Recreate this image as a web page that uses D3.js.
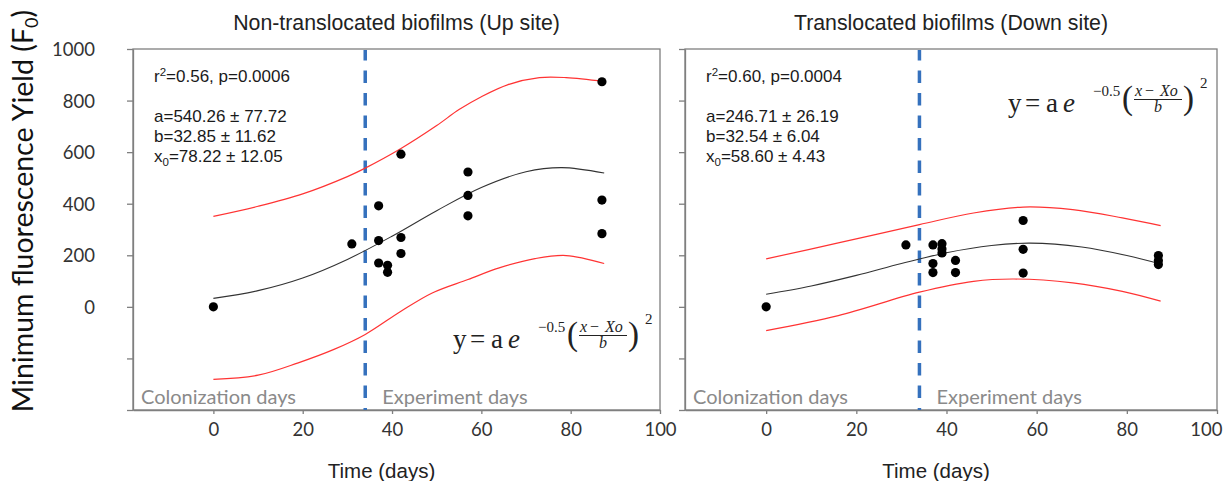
<!DOCTYPE html>
<html>
<head>
<meta charset="utf-8">
<script src="https://cdn.jsdelivr.net/npm/d3@7/dist/d3.min.js"></script>
<style>
  body { margin: 0; background: #fff; }
  .axis text { font-family: Lato, "Open Sans", sans-serif; font-size: 18.5px; fill: #333; }
  .axis path, .axis line { stroke: #7f7f7f; stroke-width: 1.3; }
</style>
</head>
<body>
<svg id="svg" width="1223" height="481"></svg>
<script>
// ---- data ----
var xTicks = [0, 20, 40, 60, 80, 100];
var yTicks = [-400, -200, 0, 200, 400, 600, 800, 1000];
var yTickLabels = ["", "", "0", "200", "400", "600", "800", "1000"];
var translocationDay = 34;

// Up site (non-translocated)
var upDays   = [0, 31, 37, 37, 37, 39, 39, 42, 42, 42, 57, 57, 57, 87, 87, 87];
var upValues = [0, 244, 392, 257, 170, 161, 134, 592, 269, 207, 523, 432, 353, 873, 414, 284];
var upFitDays = [0, 10, 20, 30, 40, 50, 60, 70, 78, 87.5];
var upFit     = [33, 63, 112, 184, 274, 373, 463, 524, 540, 519];
var upHiDays  = [0, 10, 20, 30, 34, 42, 50, 55, 60, 66, 73, 79, 87.5];
var upHi      = [351, 390, 438, 505, 538, 614, 703, 765, 815, 862, 889, 889, 874];
var upLoDays  = [0, 10, 19, 27, 34, 42, 49, 57, 64, 72, 79, 87.5];
var upLo      = [-281, -265, -217, -165, -107, -17, 54, 106, 151, 187, 199, 168];
var upStats = ["r2=0.56, p=0.0006", "a=540.26 \u00b1 77.72", "b=32.85 \u00b1 11.62", "x0=78.22 \u00b1 12.05"];

// Down site (translocated)
var downDays   = [0, 31, 37, 37, 37, 39, 39, 39, 42, 42, 57, 57, 57, 87, 87, 87];
var downValues = [0, 240, 240, 168, 133, 245, 224, 209, 180, 133, 335, 223, 131, 199, 180, 164];
var downFitDays = [0, 10, 20, 30, 40, 50, 58.6, 70, 80, 87.5];
var downFit     = [49, 81, 122, 168, 210, 238, 247, 232, 199, 166];
var downHiDays  = [0, 16, 34, 46, 57, 68, 79, 87.5];
var downHi      = [186, 248, 319, 364, 387, 377, 345, 315];
var downLoDays  = [0, 16, 34, 46, 55, 68, 79, 87.5];
var downLo      = [-92, -34, 57, 99, 108, 93, 60, 22];
var downStats = ["r2=0.60, p=0.0004", "a=246.71 \u00b1 26.19", "b=32.54 \u00b1 6.04", "x0=58.60 \u00b1 4.43"];

var titles = ["Non-translocated biofilms (Up site)", "Translocated biofilms (Down site)"];

function zip(xs, ys) { return xs.map(function (d, i) { return [d, ys[i]]; }); }

var panels = [
  { left: 133, right: 660, title: titles[0], labels: true, stats: upStats,
    pts: zip(upDays, upValues), fit: zip(upFitDays, upFit), hi: zip(upHiDays, upHi), lo: zip(upLoDays, upLo),
    eq: [453, 348] },
  { left: 685, right: 1217, title: titles[1], labels: false, stats: downStats,
    pts: zip(downDays, downValues), fit: zip(downFitDays, downFit), hi: zip(downHiDays, downHi), lo: zip(downLoDays, downLo),
    eq: [1008, 112] }
];

var svg = d3.select("#svg"),
    plotTop = 49, plotBottom = 410;

var y = d3.scaleLinear().domain([-400, 1000]).range([plotBottom, plotTop]);

panels.forEach(function (p, pi) {
  var x = d3.scaleLinear().domain([-18, 100]).range([p.left, p.right]);
  var g = svg.append("g");

  // frame
  g.append("rect")
    .attr("x", p.left).attr("y", plotTop)
    .attr("width", p.right - p.left).attr("height", plotBottom - plotTop)
    .attr("fill", "none").attr("stroke", "#7f7f7f").attr("stroke-width", 1.3);

  g.append("g").attr("class", "axis")
    .attr("transform", "translate(" + p.left + ",0)")
    .call(d3.axisLeft(y).tickValues(yTicks).tickSize(6).tickSizeOuter(0).tickPadding(32)
      .tickFormat(function (d, i) { return p.labels ? yTickLabels[i] : ""; }))
    .call(function (a) { a.selectAll("text").attr("dy", "0.36em"); });

  var xa = g.append("g").attr("class", "axis")
    .attr("transform", "translate(0," + plotBottom + ")")
    .call(d3.axisBottom(x).tickValues(xTicks).tickSize(4).tickSizeOuter(0).tickPadding(9));
  if (pi === 1) {
    // last label sits against the page edge
    xa.selectAll("text").filter(function (d) { return d === 100; })
      .attr("text-anchor", "end").attr("x", 5);
  }

  // dashed translocation line
  g.append("line")
    .attr("x1", x(translocationDay)).attr("x2", x(translocationDay))
    .attr("y1", plotTop + 1).attr("y2", plotBottom)
    .attr("stroke", "#3571bd").attr("stroke-width", 3.5)
    .attr("stroke-dasharray", "12.5,10").attr("stroke-dashoffset", 2);

  var line = d3.line().x(function (d) { return x(d[0]); }).y(function (d) { return y(d[1]); })
    .curve(d3.curveCatmullRom);

  g.append("path").datum(p.hi).attr("d", line).attr("fill", "none").attr("stroke", "#ff3333").attr("stroke-width", 1.2);
  g.append("path").datum(p.lo).attr("d", line).attr("fill", "none").attr("stroke", "#ff3333").attr("stroke-width", 1.2);
  g.append("path").datum(p.fit).attr("d", line).attr("fill", "none").attr("stroke", "#333").attr("stroke-width", 1.1);

  g.selectAll("circle").data(p.pts).enter().append("circle")
    .attr("cx", function (d) { return x(d[0]); })
    .attr("cy", function (d) { return y(d[1]); })
    .attr("r", 4.6).attr("fill", "#000");

  // title
  g.append("text")
    .attr("x", (p.left + p.right) / 2).attr("y", 30)
    .attr("text-anchor", "middle")
    .style("font-family", "'Liberation Sans', Arial, sans-serif").style("font-size", "21.3px").style("fill", "#222")
    .text(p.title);

  // x axis title
  g.append("text")
    .attr("x", (p.left + p.right) / 2 - 15).attr("y", 478)
    .attr("text-anchor", "middle")
    .style("font-family", "'Liberation Sans', Arial, sans-serif").style("font-size", "20.5px").style("fill", "#222")
    .text("Time (days)");

  // phase labels
  var phase = g.append("g").style("font-family", "Lato, 'Open Sans', sans-serif")
    .style("font-size", "20px").style("fill", "#8a8a8a");
  phase.append("text").attr("x", p.left + 8).attr("y", 404).text("Colonization days");
  phase.append("text").attr("x", x(translocationDay) + 17).attr("y", 404).text("Experiment days");

  // fit statistics
  var st = g.append("g").style("font-family", "'Liberation Sans', Arial, sans-serif")
    .style("font-size", "17px").style("fill", "#1a1a1a");
  var r = st.append("text").attr("x", p.left + 21).attr("y", 82);
  r.append("tspan").text("r");
  r.append("tspan").attr("dy", -6).style("font-size", "11.5px").text("2");
  r.append("tspan").attr("dy", 6).text(p.stats[0].slice(2));
  st.append("text").attr("x", p.left + 21).attr("y", 122).text(p.stats[1]);
  st.append("text").attr("x", p.left + 21).attr("y", 142).text(p.stats[2]);
  var x0t = st.append("text").attr("x", p.left + 21).attr("y", 162);
  x0t.append("tspan").text("x");
  x0t.append("tspan").attr("dy", 4).style("font-size", "11.5px").text("0");
  x0t.append("tspan").attr("dy", -4).text(p.stats[3].slice(2));

  drawEquation(g, p.eq[0], p.eq[1]);
});

function drawEquation(g, ex, ey) {
  var e = g.append("g").attr("transform", "translate(" + ex + "," + ey + ")")
    .style("font-family", "'Liberation Serif', 'DejaVu Serif', serif").style("fill", "#222");
  function t(dx, dy, size, txt, italic, anchor) {
    return e.append("text").attr("x", dx).attr("y", dy)
      .style("font-size", size + "px").style("font-style", italic ? "italic" : "normal")
      .attr("text-anchor", anchor || "start").text(txt);
  }
  t(0, 0, 27, "y");
  t(17, 0, 27, "=");
  t(38, 0, 27, "a");
  t(55, 0, 27, "e", true);
  t(85, -16, 15, "\u22120.5");
  t(114, -3, 33, "(");
  t(127, -16, 16, "x", true);
  t(137, -16, 16, "\u2212");
  t(152, -16, 16, "Xo", true);
  e.append("line").attr("x1", 126).attr("x2", 174).attr("y1", -12.5).attr("y2", -12.5)
    .attr("stroke", "#222").attr("stroke-width", 1);
  t(150, -0.5, 16, "b", true, "middle");
  t(175, -3, 33, ")");
  t(192, -24, 15, "2");
}

// y axis title
svg.append("text")
  .attr("transform", "translate(33,211) rotate(-90)")
  .attr("text-anchor", "middle")
  .style("font-family", "Lato, 'Open Sans', sans-serif").style("font-size", "28.5px").style("fill", "#111")
  .call(function (t) {
    t.append("tspan").text("Minimum fluorescence Yield (F");
    t.append("tspan").attr("dy", 5).style("font-size", "18px").text("0");
    t.append("tspan").attr("dy", -5).text(")");
  });
</script>
</body>
</html>
